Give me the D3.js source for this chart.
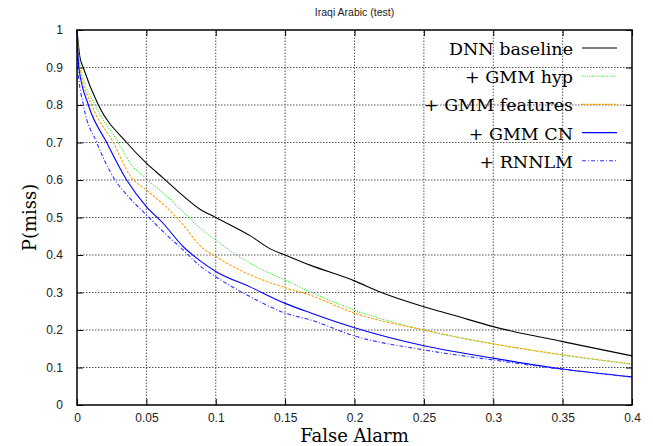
<!DOCTYPE html>
<html>
<head>
<meta charset="utf-8">
<script src="https://cdn.jsdelivr.net/npm/d3@7"></script>
<style>
  body { margin: 0; background: #fff; }
  svg { display: block; }
</style>
</head>
<body>
<script>
// DET curves, Iraqi Arabic test set
const xTicks = [0, 0.05, 0.1, 0.15, 0.2, 0.25, 0.3, 0.35, 0.4];
const yTicks = [0, 0.1, 0.2, 0.3, 0.4, 0.5, 0.6, 0.7, 0.8, 0.9, 1];
const seriesNames = ["DNN baseline", "+ GMM hyp", "+ GMM features", "+ GMM CN", "+ RNNLM"];

// [false alarm, P(miss)]
const dnnBaseline = [[0, 1], [0.002, 0.93], [0.0045, 0.9], [0.0154, 0.8], [0.0358, 0.7], [0.05, 0.645],
  [0.0622, 0.605], [0.0742, 0.565], [0.0886, 0.522], [0.1, 0.5], [0.125, 0.451], [0.14, 0.415],
  [0.15, 0.4], [0.168, 0.373], [0.2, 0.331], [0.218, 0.302], [0.25, 0.262], [0.271, 0.24],
  [0.3, 0.209], [0.35, 0.169], [0.4, 0.131]];
const gmmHyp = [[0, 1], [0.0026, 0.9], [0.013, 0.8], [0.0298, 0.7], [0.0382, 0.646], [0.05, 0.603],
  [0.0622, 0.565], [0.0766, 0.515], [0.0886, 0.472], [0.1, 0.44], [0.113, 0.405], [0.1247, 0.378],
  [0.15, 0.333], [0.168, 0.302], [0.2, 0.253], [0.25, 0.2], [0.3, 0.163], [0.35, 0.133], [0.4, 0.109]];
const gmmFeatures = [[0, 1], [0.002, 0.9], [0.0106, 0.8], [0.0262, 0.7], [0.0382, 0.612], [0.05, 0.573],
  [0.0622, 0.535], [0.0766, 0.48], [0.0886, 0.425], [0.1, 0.396], [0.1247, 0.347], [0.15, 0.313],
  [0.168, 0.293], [0.2, 0.245], [0.25, 0.2], [0.3, 0.163], [0.35, 0.134], [0.4, 0.109]];
const gmmCN = [[0, 1], [0.0013, 0.9], [0.0082, 0.8], [0.0214, 0.7], [0.0358, 0.6], [0.05, 0.529],
  [0.0622, 0.484], [0.0766, 0.422], [0.0886, 0.385], [0.1, 0.356], [0.1247, 0.315], [0.15, 0.271],
  [0.168, 0.246], [0.2, 0.206], [0.25, 0.158], [0.3, 0.125], [0.35, 0.096], [0.4, 0.075]];
const rnnlm = [[0, 1], [0.0005, 0.9], [0.0046, 0.8], [0.0142, 0.7], [0.0274, 0.6], [0.0382, 0.551],
  [0.05, 0.507], [0.0622, 0.462], [0.0766, 0.413], [0.0886, 0.371], [0.1, 0.342], [0.1247, 0.289],
  [0.15, 0.245], [0.168, 0.227], [0.2, 0.184], [0.25, 0.147], [0.3, 0.12], [0.35, 0.095], [0.4, 0.074]];

const allSeries = [dnnBaseline, gmmHyp, gmmFeatures, gmmCN, rnnlm];
const colors = ["#000000", "#22ee22", "#ffa000", "#0000ff", "#3333ff"];
const dashes = [null, "1,1.5", "2.5,1.5", null, "4,2,1,2"];

const svgWidth = 653;
const svgHeight = 446;
const margin = {left: 77, right: 21, top: 30, bottom: 41};

const scaleX = d3.scaleLinear().domain([0, 0.4]).range([margin.left, svgWidth - margin.right]);
const scaleY = d3.scaleLinear().domain([0, 1]).range([svgHeight - margin.bottom, margin.top]);

const svg = d3.select('body')
  .append('svg')
  .attr('width', svgWidth)
  .attr('height', svgHeight);

const x0 = scaleX(0), x1 = scaleX(0.4), y0 = scaleY(0), y1 = scaleY(1);
const sans = 'Liberation Sans, Arial, sans-serif';
const serif = 'DejaVu Serif';

// grid (dotted)
svg.append('g')
  .selectAll('line')
  .data(xTicks.slice(1, -1))
  .enter()
  .append('line')
  .attr('x1', d => scaleX(d)).attr('x2', d => scaleX(d))
  .attr('y1', y0).attr('y2', y1)
  .attr('stroke', '#555').attr('stroke-dasharray', '1.5,1.5');

svg.append('g')
  .selectAll('line')
  .data(yTicks.slice(1, -1))
  .enter()
  .append('line')
  .attr('x1', x0).attr('x2', x1)
  .attr('y1', d => scaleY(d)).attr('y2', d => scaleY(d))
  .attr('stroke', '#555').attr('stroke-dasharray', '1.5,1.5');

// axes with inward ticks, mirrored
const tickFont = g => g.attr('font-family', sans).attr('font-size', 12)
  .selectAll('text').attr('fill', '#222');

svg.append('g')
  .attr('transform', `translate(0,${y0})`)
  .call(d3.axisBottom(scaleX).tickValues(xTicks).tickFormat(d3.format('')).tickSizeInner(-6).tickSizeOuter(0).tickPadding(8))
  .call(g => g.select('.domain').remove())
  .call(tickFont);

svg.append('g')
  .attr('transform', `translate(${x0},0)`)
  .call(d3.axisLeft(scaleY).tickValues(yTicks).tickFormat(d3.format('')).tickSizeInner(-6).tickSizeOuter(0).tickPadding(14))
  .call(g => g.select('.domain').remove())
  .call(tickFont);

svg.append('g')
  .attr('transform', `translate(0,${y1})`)
  .call(d3.axisTop(scaleX).tickValues(xTicks).tickFormat('').tickSizeInner(-6).tickSizeOuter(0))
  .call(g => g.select('.domain').remove());

svg.append('g')
  .attr('transform', `translate(${x1},0)`)
  .call(d3.axisRight(scaleY).tickValues(yTicks).tickFormat('').tickSizeInner(-6).tickSizeOuter(0))
  .call(g => g.select('.domain').remove());

// curves
const line = d3.line().x(d => scaleX(d[0])).y(d => scaleY(d[1])).curve(d3.curveMonotoneX);

svg.append('g')
  .selectAll('path')
  .data(allSeries)
  .enter()
  .append('path')
  .attr('d', line)
  .attr('fill', 'none')
  .attr('stroke', (d, i) => colors[i])
  .attr('stroke-width', 1.1)
  .attr('stroke-dasharray', (d, i) => dashes[i]);

// border
svg.append('rect')
  .attr('x', x0).attr('y', y1)
  .attr('width', x1 - x0).attr('height', y0 - y1)
  .attr('fill', 'none').attr('stroke', '#000').attr('stroke-width', 1.5);

// legend
const legend = svg.append('g')
  .selectAll('g')
  .data(seriesNames)
  .enter()
  .append('g')
  .attr('transform', (d, i) => `translate(0,${48 + i * 28.2})`);

legend.append('text')
  .attr('x', 573).attr('y', 7)
  .attr('text-anchor', 'end')
  .attr('font-family', serif)
  .attr('font-size', 17.5)
  .text(d => d);

legend.append('line')
  .attr('x1', 582).attr('x2', 617)
  .attr('stroke', (d, i) => colors[i])
  .attr('stroke-width', 1.1)
  .attr('stroke-dasharray', (d, i) => dashes[i]);

// title and axis labels
svg.append('text')
  .attr('x', (x0 + x1) / 2).attr('y', 16)
  .attr('text-anchor', 'middle')
  .attr('font-family', sans)
  .attr('font-size', 10.5).attr('fill', '#222')
  .text('Iraqi Arabic (test)');

svg.append('text')
  .attr('x', (x0 + x1) / 2).attr('y', 442)
  .attr('text-anchor', 'middle')
  .attr('font-family', serif)
  .attr('font-size', 18)
  .text('False Alarm');

svg.append('text')
  .attr('transform', `translate(36,${(y0 + y1) / 2}) rotate(-90)`)
  .attr('text-anchor', 'middle')
  .attr('font-family', serif)
  .attr('font-size', 18)
  .text('P(miss)');
</script>
</body>
</html>
